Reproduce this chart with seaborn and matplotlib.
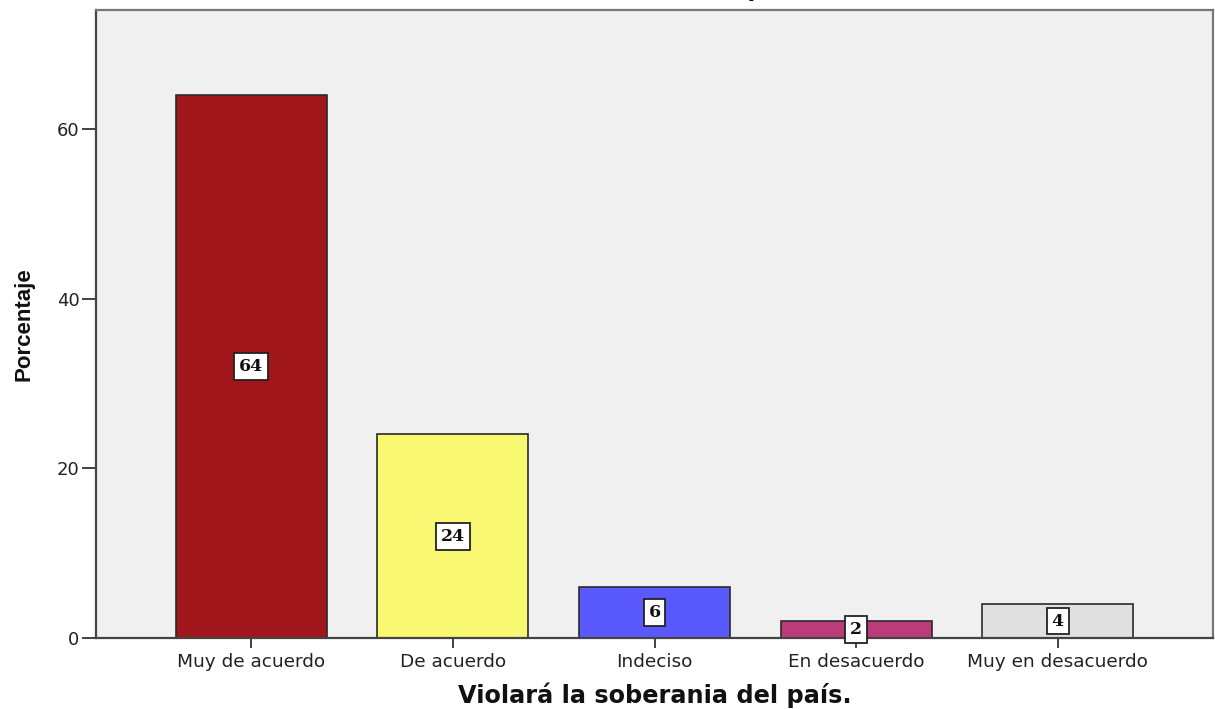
import matplotlib
matplotlib.use("Agg")
import matplotlib.pyplot as plt
import seaborn as sns
import pandas as pd

categories = ["Muy de acuerdo", "De acuerdo", "Indeciso", "En desacuerdo", "Muy en desacuerdo"]
values = [64, 24, 6, 2, 4]
colors = ["#A0161B", "#F8F872", "#5A5AFC", "#BC3C7A", "#E0E0E0"]
yticks = [0, 20, 40, 60]

sns.set_theme(style="white")
plt.rcParams["font.family"] = ["DejaVu Sans"]

df = pd.DataFrame({"cat": categories, "val": values})

fig = plt.figure(figsize=(12.15, 7.09), dpi=100)
ax = fig.add_axes([96 / 1215, 1 - 638 / 709, (1213 - 96) / 1215, (638 - 10) / 709])
ax.set_facecolor("#F0F0F0")

sns.barplot(data=df, x="cat", y="val", hue="cat", palette=colors, order=categories,
            hue_order=categories, legend=False, width=0.75, edgecolor="#2a2a2a",
            linewidth=1.2, saturation=1, ax=ax)

for i, v in enumerate(values):
    ax.text(i, v / 2, str(v), ha="center", va="center", fontsize=12.5, fontweight="bold",
            family="DejaVu Serif", color="#111111",
            bbox=dict(boxstyle="square,pad=0.28", facecolor="white", edgecolor="#222222", linewidth=1.3))

ax.set_xlim(-0.77, 4.77)
ax.set_ylim(0, 74)
ax.set_yticks(yticks)
ax.set_yticklabels([str(t) for t in yticks], fontsize=13, color="#222222")
ax.set_xticks(range(len(categories)))
ax.set_xticklabels(categories, fontsize=13.3, color="#222222")
ax.tick_params(axis="y", direction="out", length=10, width=1.3, color="#333333", pad=2, left=True)
ax.tick_params(axis="x", direction="out", length=7, width=1.3, color="#333333", pad=4, bottom=True)

for side in ["left", "bottom"]:
    ax.spines[side].set_color("#444444")
    ax.spines[side].set_linewidth(1.6)
for side in ["top", "right"]:
    ax.spines[side].set_color("#777777")
    ax.spines[side].set_linewidth(1.6)

ax.set_xlabel("Violará la soberania del país.", fontsize=17.3, fontweight="bold", labelpad=8, color="#111111")
ax.set_ylabel("Porcentaje", fontsize=16, fontweight="bold", labelpad=16, color="#111111",
              family=["Liberation Sans", "DejaVu Sans"])

fig.text(0.512, 1.005, "Violará la soberania del país.", ha="center", va="baseline",
         fontsize=16.5, fontweight="bold", color="#111111")

fig.savefig("out.png", dpi=100)
